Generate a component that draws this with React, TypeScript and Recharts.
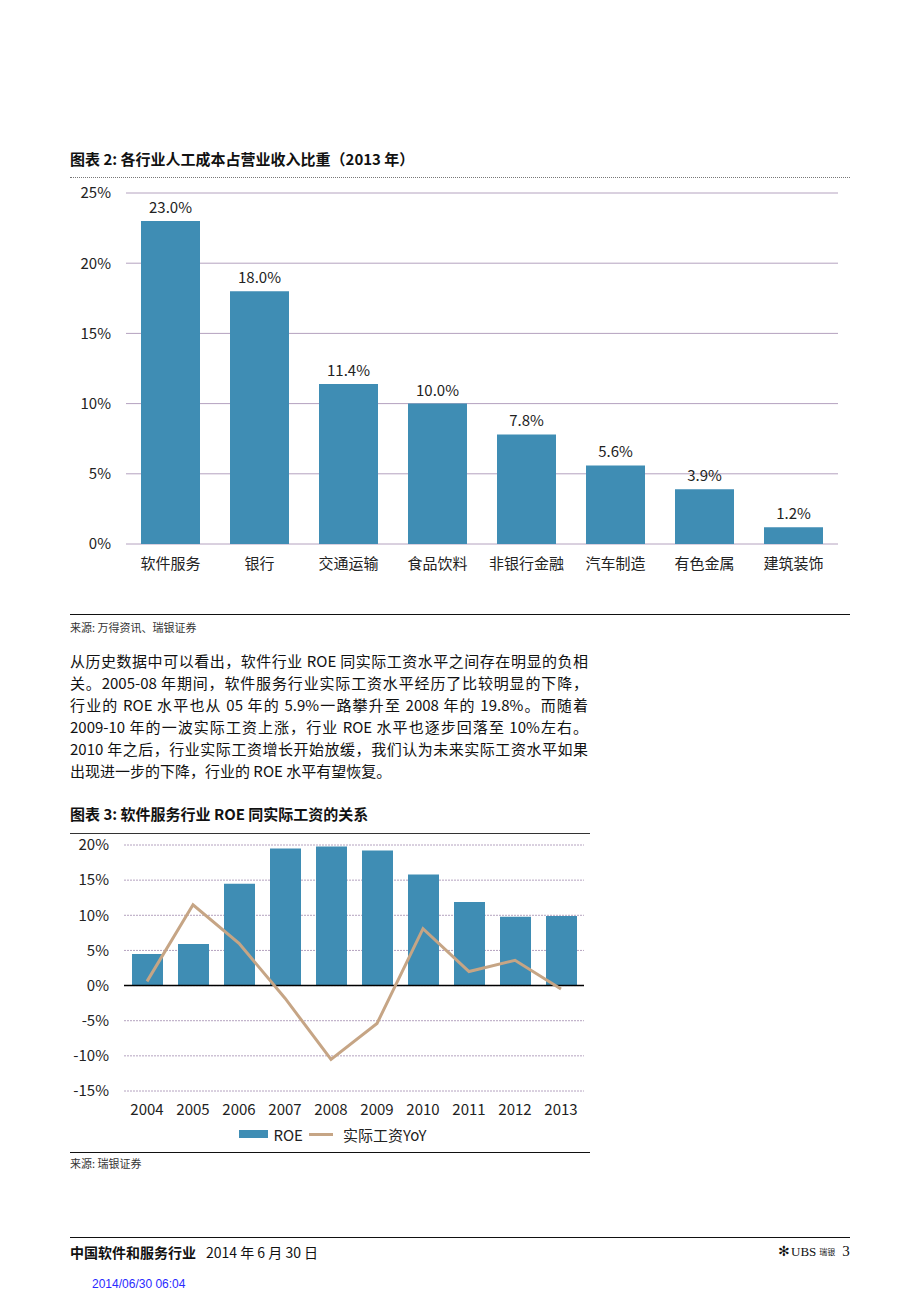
import React from 'react';
import {
  BarChart,
  Bar,
  ComposedChart,
  Line,
  XAxis,
  YAxis,
  CartesianGrid,
  LabelList,
  ReferenceLine,
  Legend,
} from 'recharts';

const industries = ['软件服务', '银行', '交通运输', '食品饮料', '非银行金融', '汽车制造', '有色金属', '建筑装饰'];
const laborShare = [23.0, 18.0, 11.4, 10.0, 7.8, 5.6, 3.9, 1.2];
const shareTicks = [0, 5, 10, 15, 20, 25];

const years = ['2004', '2005', '2006', '2007', '2008', '2009', '2010', '2011', '2012', '2013'];
const roe = [4.5, 5.9, 14.5, 19.5, 19.8, 19.2, 15.8, 11.9, 9.8, 9.9];
const wageYoY = [0.6, 11.5, 6.0, -1.8, -10.5, -5.4, 8.1, 2.0, 3.6, -0.5];
const roeTicks = [-15, -10, -5, 0, 5, 10, 15, 20];

const paragraph = [
  '从历史数据中可以看出，软件行业 ROE 同实际工资水平之间存在明显的负相',
  '关。2005-08 年期间，软件服务行业实际工资水平经历了比较明显的下降，',
  '行业的 ROE 水平也从 05 年的 5.9%一路攀升至 2008 年的 19.8%。而随着',
  '2009-10 年的一波实际工资上涨，行业 ROE 水平也逐步回落至 10%左右。',
  '2010 年之后，行业实际工资增长开始放缓，我们认为未来实际工资水平如果',
  '出现进一步的下降，行业的 ROE 水平有望恢复。',
];

const FONT = "'Noto Sans CJK SC', 'Noto Sans', sans-serif";
const BAR = '#3f8db4';
const WAGE = '#c6a585';
const GRID = '#b4a2bf';

const shareData = industries.map((name, i) => ({ name, value: laborShare[i] }));
const roeData = years.map((year, i) => ({ year, roe: roe[i], wage: wageYoY[i] }));

const pct = (v: number) => `${v}%`;

function LegendContent(props: any) {
  const items = props.payload || [];
  return (
    <div
      style={{
        display: 'flex',
        justifyContent: 'center',
        alignItems: 'center',
        height: 24,
        paddingLeft: 28,
        fontFamily: FONT,
        fontSize: 15,
        color: '#222',
      }}
    >
      {items.map((item: any) => (
        <div key={item.value} style={{ display: 'flex', alignItems: 'center', marginRight: 6 }}>
          {item.type === 'rect' ? (
            <span style={{ width: 29, height: 8, background: BAR, marginRight: 5 }} />
          ) : (
            <span style={{ width: 24, height: 3, background: WAGE, marginRight: 10 }} />
          )}
          <span>{item.value}</span>
        </div>
      ))}
    </div>
  );
}

const abs = (top: number, left: number, extra: React.CSSProperties = {}): React.CSSProperties => ({
  position: 'absolute',
  top,
  left,
  ...extra,
});

export default function App() {
  return (
    <div style={{ position: 'absolute', top: 0, left: 0, width: 920, height: 1302, background: '#fff', fontFamily: FONT, color: '#111' }}>
      <div style={abs(148, 70, { fontSize: 15, fontWeight: 700 })}>图表 2: 各行业人工成本占营业收入比重（2013 年）</div>
      <div style={abs(177, 70, { width: 780, borderTop: '1px dotted #777' })} />

      <div style={abs(180, 60)}>
        <BarChart width={790} height={410} data={shareData} margin={{ top: 13, right: 12, left: 0, bottom: 0 }}>
          <CartesianGrid vertical={false} stroke={GRID} />
          <XAxis
            dataKey="name"
            axisLine={false}
            tickLine={false}
            tickSize={0}
            tickMargin={14}
            height={46}
            interval={0}
            tick={{ fontSize: 15, fill: '#222', fontFamily: FONT }}
          />
          <YAxis
            domain={[0, 25]}
            ticks={shareTicks}
            tickFormatter={pct}
            axisLine={false}
            tickLine={false}
            tickSize={0}
            tickMargin={15}
            width={66}
            tick={{ fontSize: 15, fill: '#222', fontFamily: FONT }}
          />
          <Bar dataKey="value" fill={BAR} barSize={59} isAnimationActive={false}>
            <LabelList
              dataKey="value"
              position="top"
              offset={8}
              formatter={(v: any) => `${Number(v).toFixed(1)}%`}
              style={{ fontSize: 15, fill: '#222', fontFamily: FONT }}
            />
          </Bar>
        </BarChart>
      </div>

      <div style={abs(614, 70, { width: 780, borderTop: '1px solid #111' })} />
      <div style={abs(619, 70, { fontSize: 11, color: '#333' })}>来源: 万得资讯、瑞银证券</div>

      <div style={abs(650, 70, { width: 518, fontSize: 15, lineHeight: '22px', color: '#111' })}>
        {paragraph.map((line, i) => (
          <div
            key={i}
            style={{
              textAlign: 'justify',
              textAlignLast: i < paragraph.length - 1 ? 'justify' : 'left',
              whiteSpace: 'nowrap',
            }}
          >
            {line}
          </div>
        ))}
      </div>

      <div style={abs(803, 70, { fontSize: 15, fontWeight: 700 })}>图表 3: 软件服务行业 ROE 同实际工资的关系</div>
      <div style={abs(833, 70, { width: 520, borderTop: '1px solid #333' })} />

      <div style={abs(830, 60)}>
        <ComposedChart width={530} height={316} data={roeData} margin={{ top: 15, right: 6, left: 0, bottom: 0 }}>
          <CartesianGrid vertical={false} stroke={GRID} strokeDasharray="2 1" />
          <XAxis
            dataKey="year"
            axisLine={false}
            tickLine={false}
            tickSize={0}
            tickMargin={13}
            height={31}
            interval={0}
            tick={{ fontSize: 15, fill: '#222', fontFamily: FONT }}
          />
          <YAxis
            domain={[-15, 20]}
            ticks={roeTicks}
            tickFormatter={pct}
            axisLine={false}
            tickLine={false}
            tickSize={0}
            tickMargin={15}
            width={64}
            tick={{ fontSize: 15, fill: '#222', fontFamily: FONT }}
          />
          <ReferenceLine y={0} stroke="#000" strokeWidth={1.5} />
          <Bar dataKey="roe" name="ROE" fill={BAR} barSize={31} legendType="rect" isAnimationActive={false} />
          <Line
            dataKey="wage"
            name="实际工资YoY"
            stroke={WAGE}
            strokeWidth={3}
            dot={false}
            type="linear"
            legendType="plainline"
            isAnimationActive={false}
          />
          <Legend verticalAlign="bottom" content={LegendContent} />
        </ComposedChart>
      </div>

      <div style={abs(1152, 70, { width: 520, borderTop: '1px solid #111' })} />
      <div style={abs(1155, 70, { fontSize: 11, color: '#333' })}>来源: 瑞银证券</div>

      <div style={abs(1237, 70, { width: 780, borderTop: '1.5px solid #111' })} />
      <div style={abs(1242, 70, { fontSize: 14 })}>
        <span style={{ fontWeight: 700 }}>中国软件和服务行业</span>
        <span style={{ marginLeft: 10 }}>2014 年 6 月 30 日</span>
      </div>
      <div style={abs(1243, 778, { fontSize: 13, fontFamily: "'Liberation Serif', serif", display: 'flex', alignItems: 'center' })}>
        <span style={{ fontSize: 14, marginRight: 1 }}>✻</span>
        <span>UBS</span>
        <span style={{ fontSize: 8, marginLeft: 3, marginRight: 7, fontFamily: FONT }}>瑞银</span>
        <span style={{ fontSize: 15 }}>3</span>
      </div>
      <div style={abs(1277, 92, { fontSize: 12, color: '#2a2aff', fontFamily: "'Liberation Sans', sans-serif" })}>2014/06/30 06:04</div>
    </div>
  );
}
